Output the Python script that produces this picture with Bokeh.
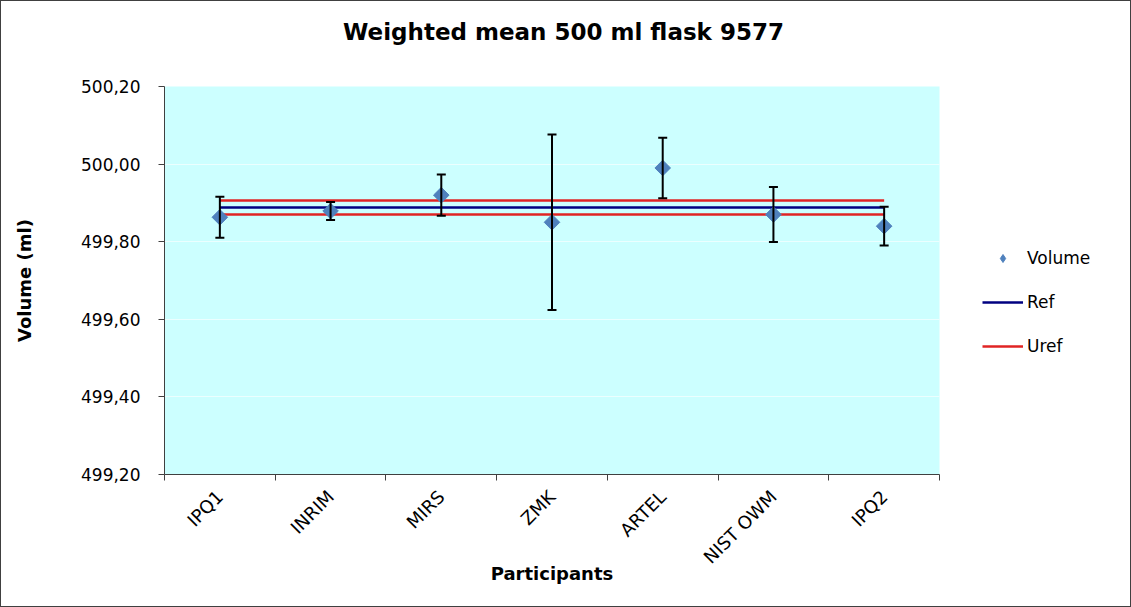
from math import pi
from bokeh.plotting import figure
from bokeh.layouts import row, column
from bokeh.models import (FactorRange, Range1d, LinearAxis, CategoricalAxis, FixedTicker, Label,
                          CustomJSTickFormatter, Whisker, ColumnDataSource, Legend, LegendItem, TeeHead)
from bokeh.embed import file_html
from bokeh.resources import INLINE

participants = ["IPQ1", "INRIM", "MIRS", "ZMK", "ARTEL", "NIST OWM", "IPQ2"]
volume = [499.863, 499.879, 499.920, 499.850, 499.990, 499.870, 499.840]
uncertainty = [0.053, 0.023, 0.053, 0.226, 0.078, 0.071, 0.050]
ref_value = 499.888
uref_value = 0.018
y_ticks = [499.2, 499.4, 499.6, 499.8, 500.0, 500.2]
title_text = "Weighted mean 500 ml flask 9577"

FONT = "DejaVu Sans"
BLUE = "#4f81bd"
NAVY = "#000080"
RED = "#e02424"

src = ColumnDataSource(dict(
    x=participants,
    y=volume,
    upper=[v + u for v, u in zip(volume, uncertainty)],
    lower=[v - u for v, u in zip(volume, uncertainty)],
))

# ---- title strip ----
TOP_H = 55
tf = figure(width=1129, height=TOP_H, output_backend="svg", toolbar_location=None,
            x_range=Range1d(0, 1), y_range=Range1d(0, 1),
            x_axis_location=None, y_axis_location=None, min_border=0)
tf.grid.visible = False
tf.outline_line_color = None
tf.background_fill_color = "white"
tf.border_fill_color = "white"
tf.add_layout(Label(x=562, y=25, x_units="screen", y_units="screen", text=title_text,
                    text_align="center", text_baseline="middle", text_font=FONT,
                    text_font_size="23px", text_font_style="bold", text_color="black"))

# ---- main plot ----
PH = 605 - TOP_H
p = figure(width=943, height=PH, output_backend="svg", toolbar_location=None,
           x_range=FactorRange(*participants), y_range=Range1d(y_ticks[0], y_ticks[-1]),
           x_axis_location=None, min_border_left=163, min_border_right=5,
           min_border_top=30, min_border_bottom=PH - 418)
p.background_fill_color = "#CCFFFF"
p.border_fill_color = "white"
p.outline_line_color = None
p.xgrid.visible = False
p.ygrid.grid_line_color = "white"
p.ygrid.grid_line_alpha = 0.6
p.ygrid.ticker = FixedTicker(ticks=y_ticks)

# y axis
ya = p.yaxis[0]
ya.ticker = FixedTicker(ticks=y_ticks)
ya.formatter = CustomJSTickFormatter(code="return tick.toFixed(2).replace('.', ',');")
ya.major_label_text_font = FONT
ya.major_label_text_font_size = "17px"
ya.major_label_text_color = "black"
ya.major_tick_out = 6
ya.major_tick_in = 0
ya.minor_tick_line_color = None
ya.axis_line_color = "#404040"
ya.major_tick_line_color = "#404040"
ya.major_label_standoff = 18
ya.axis_label = "Volume (ml)"
ya.axis_label_text_font = FONT
ya.axis_label_text_font_size = "18px"
ya.axis_label_text_font_style = "bold"
ya.axis_label_text_color = "black"
ya.axis_label_standoff = 43

# x axis: tick marks at category boundaries, labels at centres
tick_axis = LinearAxis(ticker=FixedTicker(ticks=list(range(len(participants) + 1))),
                       formatter=CustomJSTickFormatter(code="return '';"),
                       major_label_text_font_size="0px", major_label_standoff=0,
                       major_tick_out=6, major_tick_in=0, minor_tick_line_color=None,
                       axis_line_color="#404040", major_tick_line_color="#404040")
p.add_layout(tick_axis, "below")
label_axis = CategoricalAxis(axis_line_color=None, major_tick_line_color=None,
                             minor_tick_line_color=None,
                             major_label_orientation=pi / 4, major_label_standoff=7,
                             major_label_text_font=FONT, major_label_text_font_size="18px",
                             major_label_text_color="black",
                             axis_label="Participants", axis_label_text_font=FONT,
                             axis_label_text_font_size="18px", axis_label_text_font_style="bold",
                             axis_label_text_color="black", axis_label_standoff=-15)
p.add_layout(label_axis, "below")

# reference lines
p.line(x=[participants[0], participants[-1]], y=[ref_value, ref_value],
       line_color=NAVY, line_width=2.5)
p.line(x=[participants[0], participants[-1]], y=[ref_value + uref_value] * 2,
       line_color=RED, line_width=2.5)
p.line(x=[participants[0], participants[-1]], y=[ref_value - uref_value] * 2,
       line_color=RED, line_width=2.5)

# error bars
wh = Whisker(base="x", upper="upper", lower="lower", source=src, dimension="height",
             line_color="black", line_width=2, level="glyph",
             upper_head=TeeHead(size=9, line_width=2, line_color="black"),
             lower_head=TeeHead(size=9, line_width=2, line_color="black"))
p.add_layout(wh)

p.scatter(x="x", y="y", source=src, marker="square", angle=pi / 4, size=11,
          fill_color=BLUE, line_color=BLUE)

# ---- legend panel (separate canvas to the right of the plot area) ----
lg = figure(width=186, height=PH, output_backend="svg", toolbar_location=None,
            x_range=Range1d(0, 1), y_range=Range1d(0, 1),
            x_axis_location=None, y_axis_location=None, min_border=0)
lg.grid.visible = False
lg.outline_line_color = None
lg.background_fill_color = "white"
lg.border_fill_color = "white"
# legend swatches: renderers whose points lie outside the visible range
r_vol = lg.scatter(x=[-5], y=[-5], marker="diamond", size=15,
                   fill_color=BLUE, line_color=BLUE)
r_ref = lg.line(x=[-5, -4], y=[-5, -5], line_color=NAVY, line_width=2.5)
r_uref = lg.line(x=[-5, -4], y=[-5, -5], line_color=RED, line_width=2.5)
legend = Legend(items=[LegendItem(label="Volume", renderers=[r_vol]),
                       LegendItem(label="Ref", renderers=[r_ref]),
                       LegendItem(label="Uref", renderers=[r_uref])],
                location=(38, 118), padding=0, margin=0, spacing=24,
                glyph_width=41, glyph_height=20, label_height=20, label_standoff=4,
                label_text_font=FONT, label_text_font_size="17px", label_text_color="black",
                border_line_color=None, background_fill_alpha=0)
lg.add_layout(legend)

layout = column(tf, row(p, lg, spacing=0), spacing=0)
layout.styles = {"border": "1px solid #404040"}

open("out.html", "w").write(file_html(layout, INLINE))
